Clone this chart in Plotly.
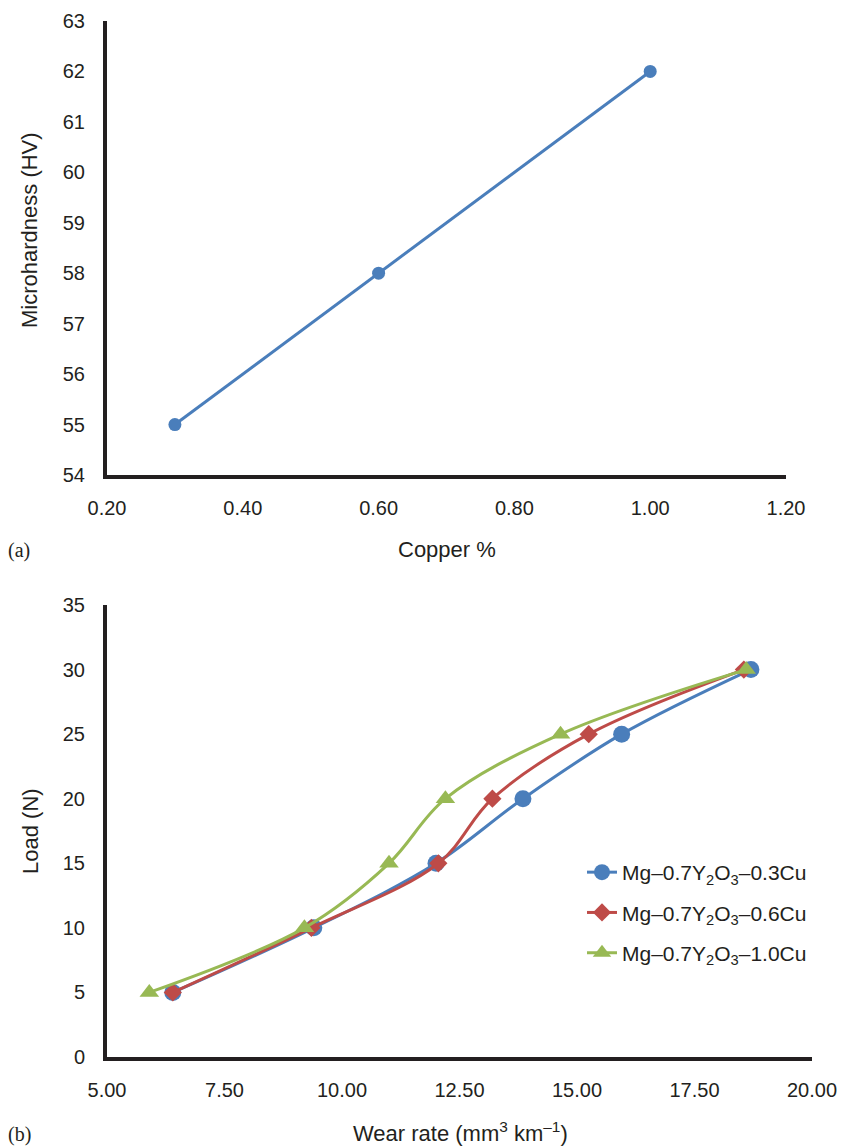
import plotly.graph_objects as go

# ---- data (a) ----
copper_pct = [0.30, 0.60, 1.00]
microhardness = [55, 58, 62]

# ---- data (b) ----
load_n = [5, 10, 15, 20, 25, 30]
wear_03 = [6.40, 9.40, 12.00, 13.85, 15.95, 18.70]
wear_06 = [6.40, 9.35, 12.05, 13.20, 15.25, 18.55]
wear_10 = [5.90, 9.20, 11.00, 12.20, 14.65, 18.60]
series_names = ["Mg–0.7Y<sub>2</sub>O<sub>3</sub>–0.3Cu",
                "Mg–0.7Y<sub>2</sub>O<sub>3</sub>–0.6Cu",
                "Mg–0.7Y<sub>2</sub>O<sub>3</sub>–1.0Cu"]

x_ticks_a = [0.20, 0.40, 0.60, 0.80, 1.00, 1.20]
y_ticks_a = list(range(54, 64))
x_ticks_b = [5.00, 7.50, 10.00, 12.50, 15.00, 17.50, 20.00]
y_ticks_b = [0, 5, 10, 15, 20, 25, 30, 35]

W, H = 845, 1146
BLUE, RED, GREEN = "#4A7EBB", "#BE4B48", "#98B954"
AX = "#231f20"
FONT = "Liberation Sans, Arial, sans-serif"
SERIF = "Liberation Serif, Times New Roman, serif"

def px_x(p):
    return p / W

def px_y(p):
    return 1 - p / H

fig = go.Figure()

fig.add_trace(go.Scatter(
    x=copper_pct, y=microhardness, mode="lines+markers",
    line=dict(color=BLUE, width=3), marker=dict(size=13, color=BLUE),
    showlegend=False, xaxis="x", yaxis="y"))

specs = [(wear_03, BLUE, "circle", 17),
         (wear_06, RED, "diamond", 14),
         (wear_10, GREEN, "triangle-up", 17)]
for i, ((xs, col, sym, sz), name) in enumerate(zip(specs, series_names)):
    fig.add_trace(go.Scatter(
        x=xs, y=load_n, mode="lines+markers", name=name,
        line=dict(color=col, width=3, shape="spline"),
        marker=dict(symbol=sym, size=sz, color=col),
        legendgroup=f"g{i}", xaxis="x2", yaxis="y2"))

axis_common = dict(showline=True, linewidth=4, linecolor=AX, showgrid=False,
                   zeroline=False, ticks="", automargin=False,
                   tickfont=dict(family=FONT, size=20, color="#231f20"),
                   fixedrange=True)

fig.update_layout(
    width=W, height=H, margin=dict(l=0, r=0, t=0, b=0, autoexpand=False),
    paper_bgcolor="white", plot_bgcolor="white",
    font=dict(family=FONT, color="#231f20"),
    xaxis=dict(domain=[px_x(107), px_x(786)], range=[0.2, 1.2], tickvals=x_ticks_a,
               ticktext=[f"{v:.2f}" for v in x_ticks_a], anchor="y",
               ticklabelstandoff=12, **axis_common),
    yaxis=dict(domain=[px_y(475), px_y(21)], range=[54, 63], tickvals=y_ticks_a,
               anchor="x", ticklabelstandoff=14, **axis_common),
    xaxis2=dict(domain=[px_x(107), px_x(812)], range=[5, 20], tickvals=x_ticks_b,
                ticktext=[f"{v:.2f}" for v in x_ticks_b], anchor="y2",
                ticklabelstandoff=12, **axis_common),
    yaxis2=dict(domain=[px_y(1057), px_y(605)], range=[0, 35], tickvals=y_ticks_b,
                anchor="x2", ticklabelstandoff=14, **axis_common),
    legend=dict(x=px_x(582), y=px_y(852), xanchor="left", yanchor="top",
                font=dict(family=FONT, size=21, color="#231f20"),
                traceorder="grouped", tracegroupgap=10, bgcolor="rgba(0,0,0,0)"),
    showlegend=True,
)

annots = [
    dict(text="Microhardness (HV)", x=px_x(30), y=px_y(230), textangle=-90, size=22, fam=FONT),
    dict(text="Copper %", x=px_x(447), y=px_y(549), textangle=0, size=22, fam=FONT),
    dict(text="(a)", x=px_x(19), y=px_y(550), textangle=0, size=20, fam=SERIF),
    dict(text="Load (N)", x=px_x(30), y=px_y(831), textangle=-90, size=22, fam=FONT),
    dict(text="Wear rate (mm<sup>3</sup> km<sup>–1</sup>)", x=px_x(460), y=px_y(1132), textangle=0, size=22, fam=FONT),
    dict(text="(b)", x=px_x(19), y=px_y(1134), textangle=0, size=20, fam=SERIF),
]
for a in annots:
    fig.add_annotation(text=a["text"], x=a["x"], y=a["y"], xref="paper", yref="paper",
                       xanchor="center", yanchor="middle", showarrow=False,
                       textangle=a["textangle"],
                       font=dict(family=a["fam"], size=a["size"], color="#231f20"))

fig.write_html("out.html", config={"displayModeBar": False},
               post_script="document.body.style.margin='0';document.body.style.padding='0';")
